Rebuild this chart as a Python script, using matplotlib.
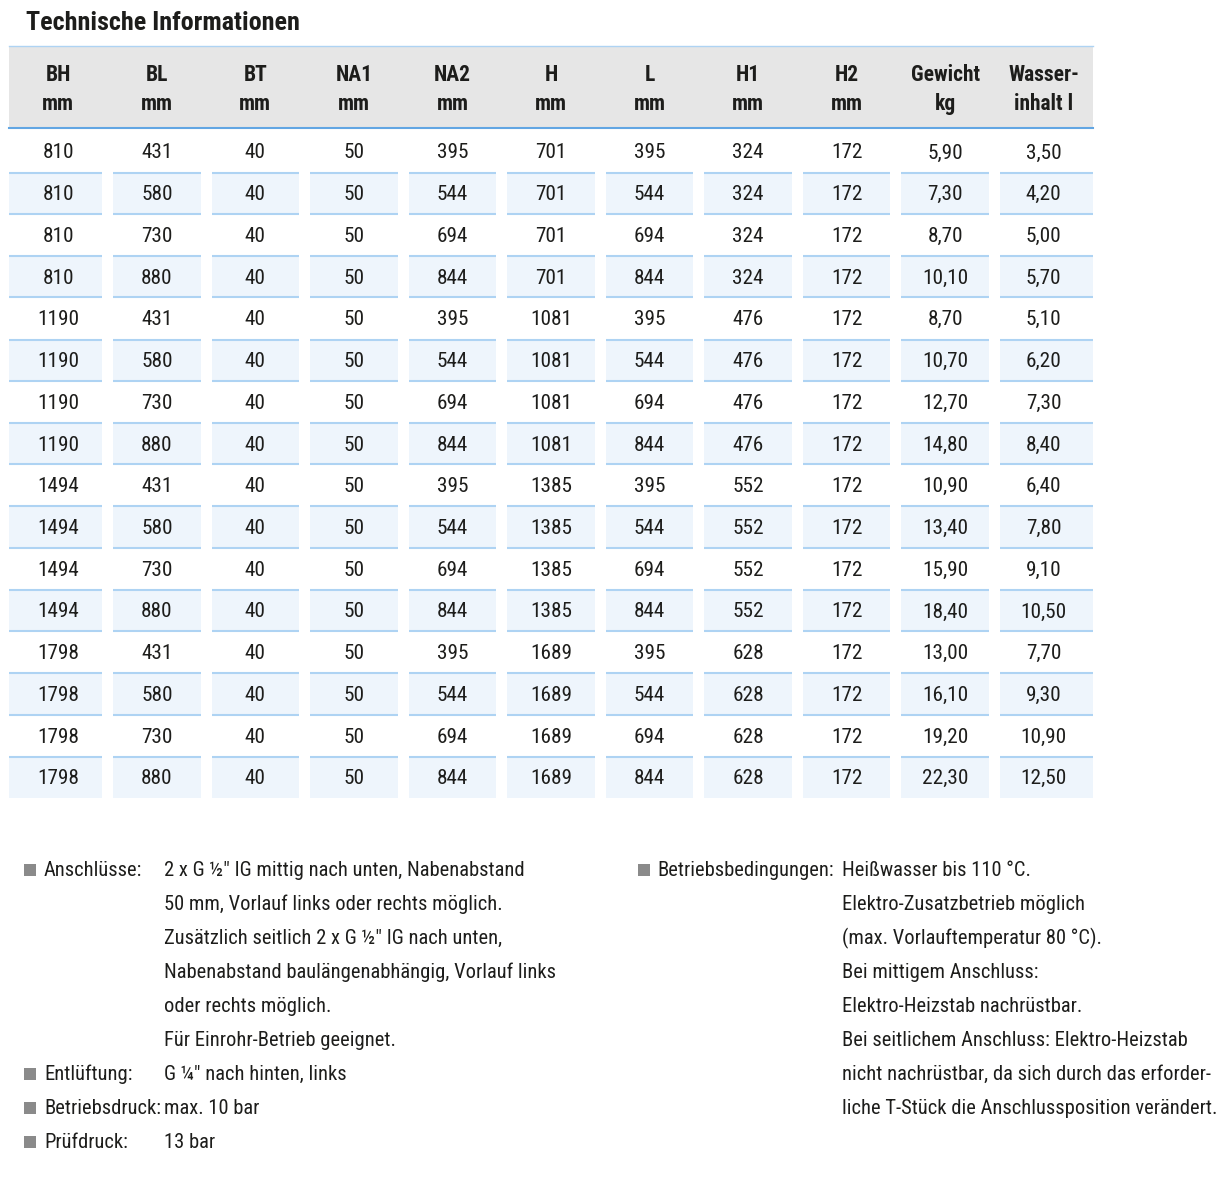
import matplotlib
matplotlib.use("Agg")
import matplotlib.pyplot as plt
from matplotlib.patches import Rectangle
from matplotlib import font_manager as fm
from matplotlib.textpath import TextPath
from matplotlib.font_manager import FontProperties

# ---------------- data ----------------
title = "Technische Informationen"
header_top = ["BH", "BL", "BT", "NA1", "NA2", "H", "L", "H1", "H2", "Gewicht", "Wasser-"]
header_bot = ["mm", "mm", "mm", "mm", "mm", "mm", "mm", "mm", "mm", "kg", "inhalt l"]

BH = [810, 810, 810, 810, 1190, 1190, 1190, 1190, 1494, 1494, 1494, 1494, 1798, 1798, 1798, 1798]
BL = [431, 580, 730, 880] * 4
BT = [40] * 16
NA1 = [50] * 16
NA2 = [395, 544, 694, 844] * 4
H = [701, 701, 701, 701, 1081, 1081, 1081, 1081, 1385, 1385, 1385, 1385, 1689, 1689, 1689, 1689]
L = [395, 544, 694, 844] * 4
H1 = [324, 324, 324, 324, 476, 476, 476, 476, 552, 552, 552, 552, 628, 628, 628, 628]
H2 = [172] * 16
gewicht = [5.90, 7.30, 8.70, 10.10, 8.70, 10.70, 12.70, 14.80,
           10.90, 13.40, 15.90, 18.40, 13.00, 16.10, 19.20, 22.30]
wasser = [3.50, 4.20, 5.00, 5.70, 5.10, 6.20, 7.30, 8.40,
          6.40, 7.80, 9.10, 10.50, 7.70, 9.30, 10.90, 12.50]

notes_left = [
    ("Anschlüsse:", ["2 x G ½\" IG mittig nach unten, Nabenabstand",
                     "50 mm, Vorlauf links oder rechts möglich.",
                     "Zusätzlich seitlich 2 x G ½\" IG nach unten,",
                     "Nabenabstand baulängenabhängig, Vorlauf links",
                     "oder rechts möglich.",
                     "Für Einrohr-Betrieb geeignet."]),
    ("Entlüftung:", ["G ¼\" nach hinten, links"]),
    ("Betriebsdruck:", ["max. 10 bar"]),
    ("Prüfdruck:", ["13 bar"]),
]
notes_right = [
    ("Betriebsbedingungen:", ["Heißwasser bis 110 °C.",
                              "Elektro-Zusatzbetrieb möglich",
                              "(max. Vorlauftemperatur 80 °C).",
                              "Bei mittigem Anschluss:",
                              "Elektro-Heizstab nachrüstbar.",
                              "Bei seitlichem Anschluss: Elektro-Heizstab",
                              "nicht nachrüstbar, da sich durch das erforder-",
                              "liche T-Stück die Anschlussposition verändert."]),
]

# ---------------- font choice: prefer a condensed face ----------------
entries = [(f.name, f.stretch) for f in fm.fontManager.ttflist]
FAM, STRETCH = "Liberation Sans", "normal"
for cand in ["Liberation Sans Narrow", "Roboto Condensed", "Open Sans Condensed",
             "Noto Sans Condensed", "DejaVu Sans Condensed"]:
    if any(n == cand for n, s in entries):
        FAM, STRETCH = cand, "normal"
        break
else:
    for cand in ["Roboto", "Noto Sans", "Open Sans", "DejaVu Sans"]:
        st = [s for n, s in entries if n == cand and s in ("condensed", "semi-condensed", "extra-condensed")]
        if st:
            FAM, STRETCH = cand, st[0]
            break
FONT = [FAM, "DejaVu Sans"]


def fit_size(sample, target_px, max_pt, weight="normal"):
    """font size (pt) so that sample is target_px wide, capped at max_pt"""
    prop = FontProperties(family=FONT, weight=weight, stretch=STRETCH)
    px = max_pt * 100 / 72
    w = TextPath((0, 0), sample, size=px, prop=prop).get_extents().width
    if w <= 0:
        return max_pt
    return min(max_pt, max_pt * target_px / w)


FS_DATA = fit_size("1798", 39, 15.5)
FS_HEAD = fit_size("Gewicht", 70, 15.5, "bold")
FS_TITLE = fit_size("Technische Informationen", 284, 18.8, "bold")
FS_NOTE = fit_size("liche T-Stück die Anschlussposition verändert.", 371, 16)

TXT = "#1d1d1b"
HEAD_BG = "#e6e6e6"
ROW_BG = "#eef5fc"
ROW_LINE = "#aed3f3"
HEAD_LINE = "#62a6e3"
BULLET = "#8a8a8a"

fig = plt.figure(figsize=(12.32, 11.8), dpi=100)
ax = fig.add_axes([0, 0, 1, 1])
ax.set_xlim(0, 1232)
ax.set_ylim(1180, 0)
ax.axis("off")


def fmt(v):
    return f"{v:.2f}".replace(".", ",")


def txt(x, y, s, size, weight="normal", ha="left"):
    ax.text(x, y, s, fontsize=size, fontweight=weight, family=FONT, fontstretch=STRETCH,
            color=TXT, ha=ha, va="baseline")


columns = [BH, BL, BT, NA1, NA2, H, L, H1, H2,
           [fmt(v) for v in gewicht], [fmt(v) for v in wasser]]
ncol = len(columns)
nrow = len(BH)

x0, x1 = 9, 1093
pitch = (x1 - x0) / ncol
gap = 5.5

# title
txt(26, 30, title, FS_TITLE, "bold")

# header
ax.add_patch(Rectangle((x0, 45.5), x1 - x0, 82, facecolor=HEAD_BG, edgecolor="none"))
ax.plot([x0, x1], [45.5, 45.5], color=ROW_LINE, lw=1.0)
ax.plot([x0, x1], [128, 128], color=HEAD_LINE, lw=1.5)
for i in range(ncol):
    cx = x0 + pitch * (i + 0.5)
    txt(cx, 81, header_top[i], FS_HEAD, "bold", "center")
    txt(cx, 110, header_bot[i], FS_HEAD, "bold", "center")

# rows
row_top0 = 130.4
rh = 41.73
for r in range(nrow):
    top = row_top0 + rh * r
    if r % 2 == 1:
        for i in range(ncol):
            left = x0 + pitch * i + (0 if i == 0 else gap)
            right = x0 + pitch * (i + 1) - (0 if i == ncol - 1 else gap)
            ax.add_patch(Rectangle((left, top), right - left, rh, facecolor=ROW_BG, edgecolor="none"))
            ax.plot([left, right], [top + 0.5, top + 0.5], color=ROW_LINE, lw=1.5, solid_capstyle="butt")
            if r != nrow - 1:
                ax.plot([left, right], [top + rh, top + rh], color=ROW_LINE, lw=1.5, solid_capstyle="butt")
    for i in range(ncol):
        cx = x0 + pitch * (i + 0.5)
        txt(cx, top + 28, str(columns[i][r]), FS_DATA, "normal", "center")

# notes
line_h = 34
base0 = 876


def draw_notes(notes, bx, lx, vx):
    y = base0
    for label, lines in notes:
        ax.add_patch(Rectangle((bx, y - 12), 12, 12, facecolor=BULLET, edgecolor="none"))
        txt(lx, y, label, FS_NOTE)
        for ln in lines:
            txt(vx, y, ln, FS_NOTE)
            y += line_h


draw_notes(notes_left, 24, 44, 164)
draw_notes(notes_right, 638, 657, 842)

fig.savefig("out.png", dpi=100, facecolor="white")
